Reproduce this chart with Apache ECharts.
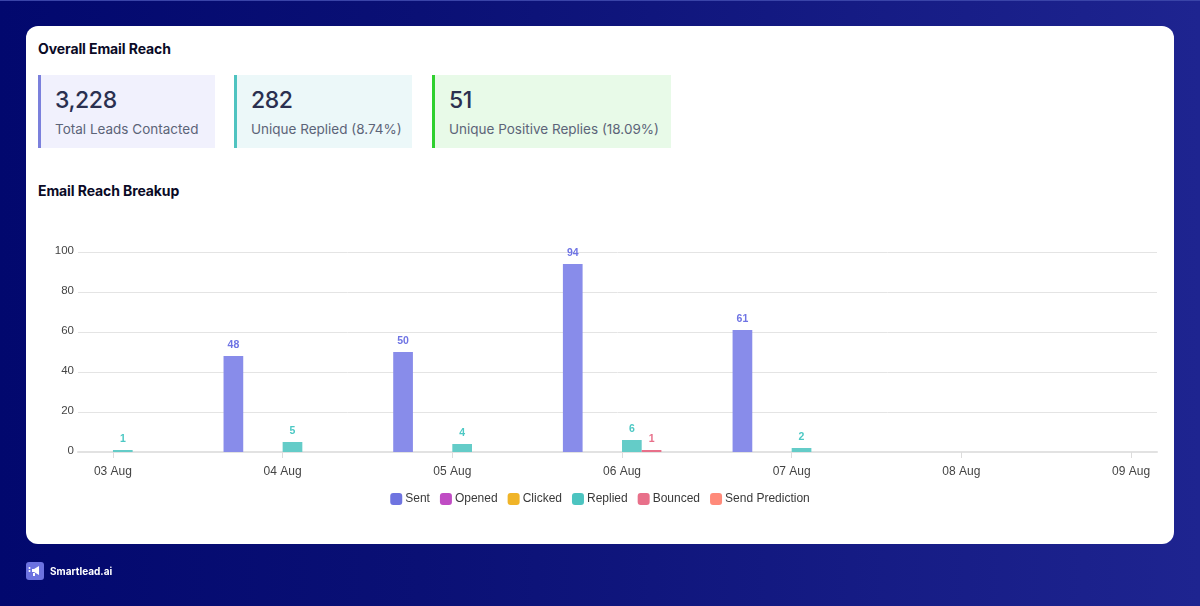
<!DOCTYPE html>
<html><head><meta charset="utf-8">
<script src="https://cdn.jsdelivr.net/npm/echarts@6/dist/echarts.min.js"></script>
<style>
html,body{margin:0;padding:0;width:1200px;height:606px;overflow:hidden;font-family:"Inter","Noto Sans",sans-serif}
#bg{position:absolute;left:0;top:0;width:1200px;height:606px;background:linear-gradient(90deg,#02086e 0%,#0a1075 35%,#1e2490 100%)}
#bg:before{content:"";position:absolute;left:0;right:0;top:0;height:1px;background:#3a44a8}
#card{position:absolute;left:26px;top:26px;width:1148px;height:518px;background:#fff;border-radius:12px}
.h{position:absolute;left:38px;font-size:14px;font-weight:700;color:#0a0a26;line-height:18px;letter-spacing:-.1px}
.k{position:absolute;top:75px;height:73px;box-sizing:border-box;border-left:3px solid}
.k b{position:absolute;left:14px;top:10px;font-size:23px;font-weight:500;color:#2a3050;line-height:30px;letter-spacing:-.4px;white-space:nowrap}
.k span{position:absolute;left:14px;top:45px;font-size:13.5px;color:#5c6478;line-height:18px;white-space:nowrap}
#main{position:absolute;left:0;top:0;width:1200px;height:606px}
#logo{position:absolute;left:26px;top:562px}
#brand{position:absolute;left:50px;top:563px;color:#fff;font-size:10px;font-weight:700;line-height:16px}
</style></head><body>
<div id="bg"></div><div id="card"></div>
<div class="h" style="top:40px">Overall Email Reach</div>
<div class="k" style="left:38px;width:177px;background:#f1f1fd;border-color:#7b80dc"><b>3,228</b><span>Total Leads Contacted</span></div>
<div class="k" style="left:234px;width:178px;background:#ecf8f9;border-color:#4fc3c0"><b>282</b><span>Unique Replied (8.74%)</span></div>
<div class="k" style="left:432px;width:239px;background:#e8fae8;border-color:#2fd02f"><b>51</b><span>Unique Positive Replies (18.09%)</span></div>
<div class="h" style="top:182px">Email Reach Breakup</div>
<div id="main"></div>
<svg id="logo" width="18" height="18" viewBox="0 0 18 18"><rect width="18" height="18" rx="3" fill="#6c72e0"/><path d="M6 7h2l5-3v9l-5-3H6z" fill="#fff"/><rect x="7" y="11" width="2" height="3" fill="#fff"/><circle cx="3.500" cy="6" r="1" fill="#fff"/><circle cx="3.500" cy="9" r="1" fill="#fff"/></svg>
<div id="brand">Smartlead.ai</div>
<script>
var categories=['03 Aug','04 Aug','05 Aug','06 Aug','07 Aug','08 Aug','09 Aug'];
var sent=[0,48,50,94,61,0,0];
var opened=[0,0,0,0,0,0,0];
var clicked=[0,0,0,0,0,0,0];
var replied=[1,5,4,6,2,0,0];
var bounced=[0,0,0,1,0,0,0];
var sendPrediction=[0,0,0,0,0,0,0];
var names=['Sent','Opened','Clicked','Replied','Bounced','Send Prediction'];
var vals=[sent,opened,clicked,replied,bounced,sendPrediction];
var legendColors=['#6f74e0','#c04cc4','#f0b428','#4cc4c0','#e8708a','#ff8a7a'];
var barColors=['#888cea','#c04cc4','#f0b428','#64ccc8','#e8708a','#ff8a7a'];
var labelColors=['#6f74e4','#c04cc4','#f0b428','#4cc8c4','#e8708a','#ff8a7a'];
var FONT='Liberation Sans';
var positions=categories.map(function(c,j){return j;});
var chart=echarts.init(document.getElementById('main'),null,{renderer:'canvas'});
chart.setOption({
 animation:false,
 grid:{left:78,right:43,top:252,bottom:154},
 legend:{top:488,left:'center',itemWidth:12,itemHeight:12,itemGap:10,icon:'roundRect',
  textStyle:{fontFamily:FONT,fontSize:12,color:'#3a3a3a',padding:[0,0,0,-2]},
  data:names.map(function(n,i){return {name:n,itemStyle:{color:legendColors[i]}}})},
 xAxis:{type:'value',min:-0.206,max:6.153,interval:1,
  axisLine:{onZero:false,lineStyle:{color:'#e2e2e2',width:2}},
  axisTick:{length:6,lineStyle:{color:'#dcdcdc'},customValues:positions},
  splitLine:{show:false},
  axisLabel:{margin:14,fontFamily:FONT,fontSize:12,color:'#444',hideOverlap:false,customValues:positions,
   formatter:function(v){return categories[v];}}},
 yAxis:{type:'value',min:0,max:100,interval:20,
  axisLine:{show:false},axisTick:{show:false},
  splitLine:{lineStyle:{color:'#e4e4e4',width:1}},
  axisLabel:{margin:4,fontFamily:FONT,fontSize:11.5,color:'#444',verticalAlign:'bottom',lineHeight:3}},
 series:names.map(function(n,i){return {
  name:n,type:'bar',barWidth:19.7,barGap:0,
  itemStyle:{color:barColors[i]},
  label:{show:true,position:'top',distance:5,fontFamily:FONT,fontSize:10.5,fontWeight:'bold',color:labelColors[i],
   formatter:function(p){return p.value[1]?p.value[1]:'';}},
  data:categories.map(function(c,j){return [j,vals[i][j]];})
 };})
});
</script></body></html>
